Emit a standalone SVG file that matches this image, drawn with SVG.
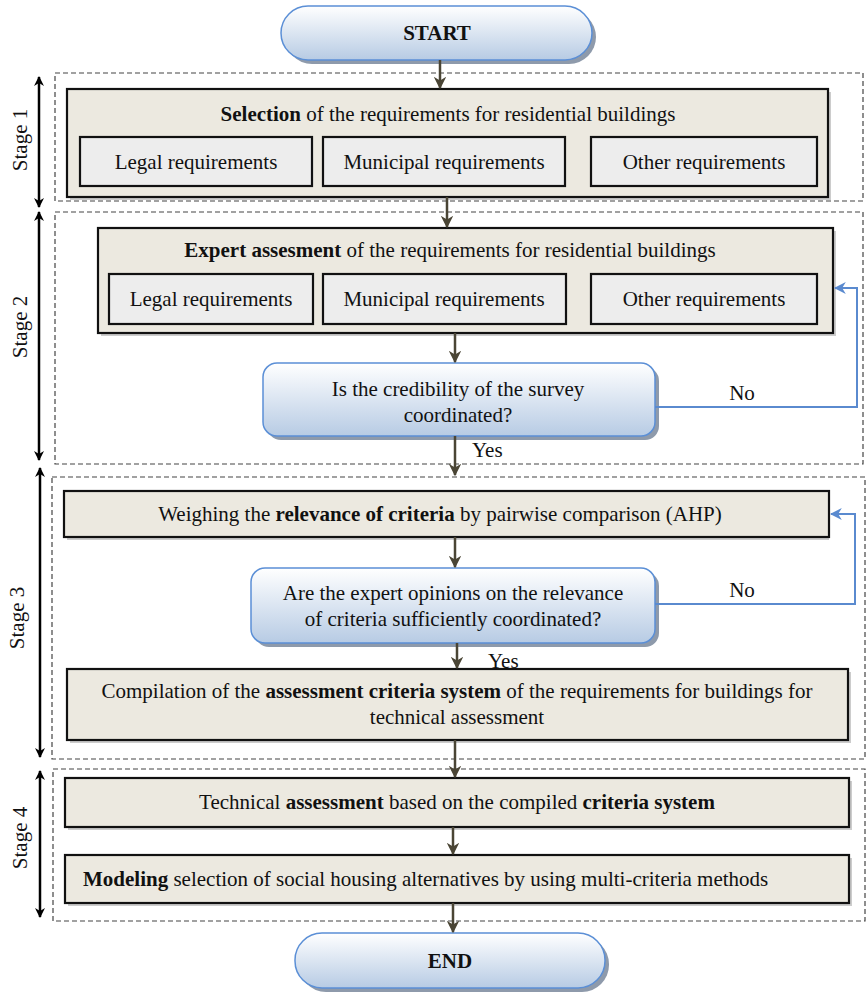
<svg xmlns="http://www.w3.org/2000/svg" width="867" height="993" viewBox="0 0 867 993" font-family="'Liberation Serif', Tinos, 'Times New Roman', 'DejaVu Serif', serif">
<style>
text{font-family:'Liberation Serif', Tinos, 'Times New Roman', 'DejaVu Serif', serif;font-size:21px;fill:#111}
.b{font-weight:bold}
.stage{fill:none;stroke:#444;stroke-width:1.2;stroke-dasharray:5,3}
.proc{fill:#ECE9E0;stroke:#111;stroke-width:2.2}
.inner{fill:#EDEDED;stroke:#111;stroke-width:2.2}
.sh{fill:#9A9A9A;opacity:0.5}
.dec{fill:url(#blue);stroke:#5B8FD6;stroke-width:1.5}
.dsh{fill:#8E9AAB}
.flow{stroke:#4A4535;stroke-width:2.5;fill:none;marker-end:url(#ah)}
.loop{stroke:#5A8ACF;stroke-width:2;fill:none;marker-end:url(#ahb)}
.sarr{stroke:#000;stroke-width:2.5;fill:none;marker-start:url(#sa);marker-end:url(#sa)}
</style>
<defs>
<linearGradient id="blue" x1="0" y1="0" x2="0" y2="1">
<stop offset="0" stop-color="#FFFFFF"/>
<stop offset="1" stop-color="#B7CBE4"/>
</linearGradient>
<marker id="ah" viewBox="0 0 10 10" refX="9" refY="5" markerWidth="5" markerHeight="5" orient="auto" markerUnits="strokeWidth">
<path d="M0,0 L10,5 L0,10 L3,5 Z" fill="#4A4535"/>
</marker>
<marker id="ahb" viewBox="0 0 10 10" refX="9" refY="5" markerWidth="6" markerHeight="6" orient="auto" markerUnits="strokeWidth">
<path d="M0,0 L10,5 L0,10 L3,5 Z" fill="#5A8ACF"/>
</marker>
<marker id="sa" viewBox="0 0 10 10" refX="9" refY="5" markerWidth="4" markerHeight="4" orient="auto-start-reverse" markerUnits="strokeWidth">
<path d="M0,0 L10,5 L0,10 L3,5 Z" fill="#000"/>
</marker>
</defs>

<g id="stages">
<rect class="stage" x="55" y="73" width="808" height="128"/>
<rect class="stage" x="55" y="212" width="808" height="252"/>
<rect class="stage" x="52" y="477" width="813" height="282"/>
<rect class="stage" x="53" y="769" width="812" height="152"/>
<line class="sarr" x1="39" y1="77" x2="39" y2="207"/>
<line class="sarr" x1="39" y1="212" x2="39" y2="460"/>
<line class="sarr" x1="40" y1="468" x2="40" y2="757"/>
<line class="sarr" x1="40" y1="771" x2="40" y2="917"/>
<text transform="translate(27,140) rotate(-90)" text-anchor="middle">Stage 1</text>
<text transform="translate(27,327) rotate(-90)" text-anchor="middle">Stage 2</text>
<text transform="translate(24,618) rotate(-90)" text-anchor="middle">Stage 3</text>
<text transform="translate(27,838) rotate(-90)" text-anchor="middle">Stage 4</text>
</g>

<g id="start">
<rect class="dsh" x="285" y="10" width="311" height="54" rx="27"/>
<rect class="dec" x="281" y="6" width="311" height="54" rx="27"/>
<text class="b" x="437" y="40" text-anchor="middle">START</text>
</g>

<g id="selection">
<rect class="sh" x="70" y="92" width="761" height="108"/>
<rect class="proc" x="67" y="89" width="761" height="108"/>
<text x="448" y="121" text-anchor="middle"><tspan class="b">Selection</tspan> of the requirements for residential buildings</text>
<rect class="inner" x="80" y="137" width="232" height="49"/>
<rect class="inner" x="323" y="137" width="242" height="49"/>
<rect class="inner" x="591" y="137" width="226" height="49"/>
<text x="196" y="169" text-anchor="middle">Legal requirements</text>
<text x="444" y="169" text-anchor="middle">Municipal requirements</text>
<text x="704" y="169" text-anchor="middle">Other requirements</text>
</g>

<g id="expert">
<rect class="sh" x="101" y="231" width="735" height="105"/>
<rect class="proc" x="98" y="228" width="735" height="105"/>
<text x="450" y="257" text-anchor="middle"><tspan class="b">Expert assesment</tspan> of the requirements for residential buildings</text>
<rect class="inner" x="109" y="274" width="204" height="50"/>
<rect class="inner" x="323" y="274" width="243" height="50"/>
<rect class="inner" x="591" y="274" width="226" height="50"/>
<text x="211" y="306" text-anchor="middle">Legal requirements</text>
<text x="444" y="306" text-anchor="middle">Municipal requirements</text>
<text x="704" y="306" text-anchor="middle">Other requirements</text>
</g>

<g id="decision1">
<rect class="dsh" x="267" y="367" width="392" height="73" rx="14"/>
<rect class="dec" x="263" y="363" width="392" height="73" rx="14"/>
<text x="458" y="396" text-anchor="middle">Is the credibility of the survey</text>
<text x="458" y="422" text-anchor="middle">coordinated?</text>
</g>

<g id="weighing">
<rect class="sh" x="67" y="494" width="762" height="46"/>
<rect class="proc" x="64" y="491" width="765" height="46"/>
<text x="440" y="521" text-anchor="middle">Weighing the <tspan class="b">relevance of criteria</tspan> by pairwise comparison (AHP)</text>
</g>

<g id="decision2">
<rect class="dsh" x="255" y="572" width="404" height="75" rx="14"/>
<rect class="dec" x="251" y="568" width="404" height="75" rx="14"/>
<text x="453" y="600" text-anchor="middle">Are the expert opinions on the relevance</text>
<text x="453" y="626" text-anchor="middle">of criteria sufficiently coordinated?</text>
</g>

<g id="compilation">
<rect class="sh" x="70" y="672" width="781" height="71"/>
<rect class="proc" x="67" y="669" width="781" height="71"/>
<text x="457" y="698" text-anchor="middle">Compilation of the <tspan class="b">assessment criteria system</tspan> of the requirements for buildings for</text>
<text x="457" y="724" text-anchor="middle">technical assessment</text>
</g>

<g id="technical">
<rect class="sh" x="68" y="781" width="784" height="49"/>
<rect class="proc" x="65" y="778" width="784" height="49"/>
<text x="457" y="809" text-anchor="middle">Technical <tspan class="b">assessment</tspan> based on the compiled <tspan class="b">criteria system</tspan></text>
</g>

<g id="modeling">
<rect class="sh" x="68" y="858" width="784" height="48"/>
<rect class="proc" x="65" y="855" width="784" height="48"/>
<text x="83" y="886"><tspan class="b">Modeling</tspan> selection of social housing alternatives by using multi-criteria methods</text>
</g>

<g id="end">
<rect class="dsh" x="299" y="937" width="310" height="55" rx="27"/>
<rect class="dec" x="295" y="933" width="310" height="55" rx="27"/>
<text class="b" x="450" y="968" text-anchor="middle">END</text>
</g>

<g id="connectors">
<line class="flow" x1="440" y1="60" x2="440" y2="88"/>
<line class="flow" x1="447" y1="197" x2="447" y2="227"/>
<line class="flow" x1="455" y1="333" x2="455" y2="362"/>
<line class="flow" x1="455" y1="436" x2="455" y2="475"/>
<line class="flow" x1="455" y1="537" x2="455" y2="567"/>
<line class="flow" x1="457" y1="643" x2="457" y2="668"/>
<line class="flow" x1="455" y1="740" x2="455" y2="777"/>
<line class="flow" x1="453" y1="827" x2="453" y2="854"/>
<line class="flow" x1="453" y1="903" x2="453" y2="932"/>
<polyline class="loop" points="655,407 857,407 857,288 835,288"/>
<polyline class="loop" points="655,604 855,604 855,514 831,514"/>
<text x="742" y="400" text-anchor="middle">No</text>
<text x="742" y="597" text-anchor="middle">No</text>
<text x="472" y="457">Yes</text>
<text x="488" y="668">Yes</text>
</g>
</svg>
